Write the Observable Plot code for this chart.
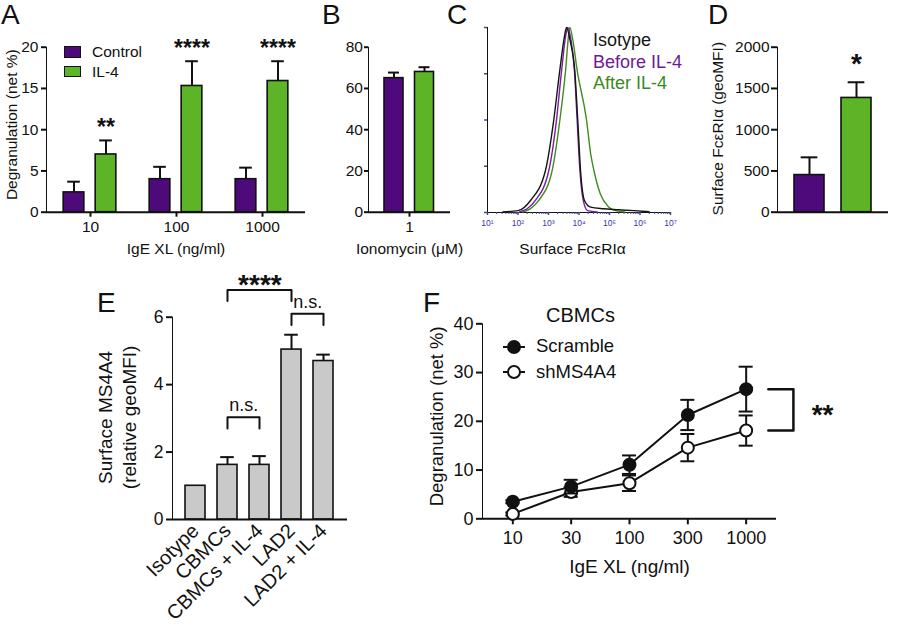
<!DOCTYPE html>
<html><head><meta charset="utf-8">
<script src="https://cdn.jsdelivr.net/npm/d3@7"></script>
<script src="https://cdn.jsdelivr.net/npm/@observablehq/plot@0.6"></script>
<style>
html,body{margin:0;padding:0;background:#fff;}
#root{position:relative;width:900px;height:626px;overflow:hidden;font-family:"Liberation Sans",Arial,sans-serif;color:#111;}
.pn{position:absolute;}
.pn svg{overflow:visible;}
.t{position:absolute;white-space:nowrap;}
.pn [aria-label*="axis"] line, .pn [aria-label*="axis"] path{stroke-width:2px;}
#pC [aria-label*="axis"]{color:#41468a;}
#pC [aria-label*="axis"] line, #pC [aria-label*="axis"] path{stroke-width:1.5px;}
#pC [aria-label*="axis"] text{font-size:8.5px !important;fill:#3434b0;}
#pE [aria-label^="x-axis"] text{font-size:20px !important;}
</style></head><body><div id="root"></div>
<script>
// ---------- data ----------
// A
const groupsA = ["10", "100", "1000"];
const controlA = [2.4, 4.0, 4.0];
const controlErrA = [1.3, 1.5, 1.4];
const il4A = [7.0, 15.3, 15.9];
const il4ErrA = [1.7, 3.0, 2.4];
const starsA = ["**", "****", "****"];
// B
const catsB = ["1"];
const controlB = [65.0];
const controlErrB = [2.7];
const il4B = [68.0];
const il4ErrB = [2.3];
// C (log10 intensity, % of max)
const isoLog = [1.5, 2.0, 2.41, 2.9, 3.17, 3.37, 3.52, 3.59, 3.72, 3.86, 3.96, 4.05, 4.18, 4.38, 4.8, 5.3, 5.8, 6.3];
const isoPct = [0.3, 1, 6.5, 22.7, 49.7, 76.8, 94.8, 100, 92, 76.8, 49.7, 22.7, 6.5, 2.9, 2, 1.5, 1, 0.4];
const beforeLog = [2.05, 2.3, 2.57, 3.01, 3.26, 3.43, 3.56, 3.63, 3.74, 3.85, 3.94, 4.03, 4.14, 4.28, 4.6];
const beforePct = [0.3, 2, 6.5, 22.7, 49.7, 76.8, 95, 100, 93, 76.8, 49.7, 22.7, 6.5, 1, 0.3];
const afterLog = [2.15, 2.4, 2.68, 3.12, 3.37, 3.56, 3.66, 3.70, 3.80, 3.94, 4.25, 4.38, 4.49, 4.70, 4.97, 5.2, 5.5];
const afterPct = [0.3, 2, 6.5, 22.7, 49.7, 76.8, 96, 100, 93, 76.8, 49.7, 32, 22.7, 10, 3, 1, 0.3];
const decadesC = [1, 2, 3, 4, 5, 6, 7];
const legendC = ["Isotype", "Before IL-4", "After IL-4"];
// D
const catsD = ["Control", "IL-4"];
const valsD = [450, 1385];
const errD = [215, 190];
const starsD = ["", "*"];
// E
const catsE = ["Isotype", "CBMCs", "CBMCs + IL-4", "LAD2", "LAD2 + IL-4"];
const valsE = [1.0, 1.62, 1.62, 5.04, 4.70];
const errE = [0, 0.23, 0.26, 0.44, 0.19];
const bracketsE = [
  {a: "CBMCs", b: "CBMCs + IL-4", level: 3.03, label: "n.s."},
  {a: "CBMCs", b: "LAD2", level: 6.81, label: "****"},
  {a: "LAD2", b: "LAD2 + IL-4", level: 6.10, label: "n.s."}
];
// F
const doses = ["10", "30", "100", "300", "1000"];
const scramble = [3.5, 6.6, 11.1, 21.3, 26.6];
const scrambleErr = [0.3, 1.4, 1.9, 3.1, 4.6];
const shMS4A4 = [1.0, 5.5, 7.3, 14.6, 18.1];
const shMS4A4Err = [0.3, 1.0, 1.6, 2.8, 3.1];
const starsF = "**";

// ---------- styling ----------
const FONT = '"Liberation Sans", Arial, sans-serif';
const PURPLE = "#4e0a7a", GREEN = "#5db427", INK = "#111", GREY = "#c9c9c9";
const C_ISO = "#151515", C_BEF = "#7a1ea3", C_AFT = "#3f8e1f";
const root = document.getElementById("root");
const intFmt = d3.format("d");

function panel(id, left, top, svg) {
  const d = document.createElement("div");
  d.className = "pn"; d.id = id;
  d.style.left = left + "px"; d.style.top = top + "px";
  d.appendChild(svg); root.appendChild(d);
}
function htext(text, x, baseline, size, opt = {}) {
  const d = document.createElement("div");
  d.className = "t"; d.textContent = text;
  d.style.fontSize = size + "px"; d.style.lineHeight = size + "px";
  d.style.top = (baseline - 0.8465 * size) + "px";
  d.style.left = x + "px";
  if (opt.anchor === "middle") d.style.transform = "translateX(-50%)";
  if (opt.color) d.style.color = opt.color;
  if (opt.weight) d.style.fontWeight = opt.weight;
  root.appendChild(d);
}
function style(size) {
  return {fontFamily: FONT, fontSize: size + "px", background: "transparent", overflow: "visible", color: INK};
}
function rows(cats, vals, errs, extra) {
  return cats.map((c, i) => ({c, v: vals[i], e: errs[i], s: extra ? extra[i] : ""}));
}
function barSeries(data, {fill, dx, bw, barW, capW}) {
  const inset = (bw - barW) / 2, cap = (bw - capW) / 2;
  const withErr = data.filter(d => d.e > 0);
  return [
    Plot.barY(data, {x: "c", y: "v", fill, stroke: INK, strokeWidth: 1.6, dx, insetLeft: inset, insetRight: inset}),
    Plot.ruleX(withErr, {x: "c", y1: "v", y2: d => d.v + d.e, dx, stroke: INK, strokeWidth: 2}),
    Plot.tickY(withErr, {x: "c", y: d => d.v + d.e, dx, stroke: INK, strokeWidth: 2, insetLeft: cap, insetRight: cap})
  ];
}
function yTitle(text, dx, dy, size, extra = {}) {
  return Plot.text([text], {text: d => d, frameAnchor: "left", textAnchor: "middle", lineAnchor: "middle",
    rotate: -90, dx, dy, fontSize: size, ...extra});
}
function xTitle(text, dy, size, dx = 0) {
  return Plot.text([text], {text: d => d, frameAnchor: "bottom", textAnchor: "middle", lineAnchor: "bottom",
    dx, dy, fontSize: size});
}

// ---------- A ----------
{
  const W = 310, H = 260, mL = 46, mR = 5;
  const bw = (W - mL - mR) / groupsA.length;
  const rc = rows(groupsA, controlA, controlErrA);
  const ri = rows(groupsA, il4A, il4ErrA, starsA);
  panel("pA", 0, 0, Plot.plot({
    width: W, height: H, marginLeft: mL, marginRight: mR, marginTop: 46.7, marginBottom: 48.3,
    style: style(15.5),
    x: {domain: groupsA, padding: 0, tickSize: 5, tickPadding: 4, label: null},
    y: {domain: [0, 20], ticks: 4, tickFormat: intFmt, tickSize: 5, tickPadding: 3, line: true, label: null},
    marks: [
      ...barSeries(rc, {fill: PURPLE, dx: -16.5, bw, barW: 21, capW: 13}),
      ...barSeries(ri, {fill: GREEN, dx: 15.5, bw, barW: 21, capW: 13}),
      Plot.ruleY([0], {stroke: INK, strokeWidth: 2}),
      Plot.text(ri, {x: "c", y: d => d.v + d.e, text: "s", dx: 15.5, dy: -5, lineAnchor: "bottom", fontSize: 23, fontWeight: "bold"}),
      yTitle("Degranulation (net %)", -34, -5, 15.5),
      xTitle("IgE XL (ng/ml)", 41.6, 15.5)
    ]
  }));
  // legend
  [[PURPLE, "Control", 46], [GREEN, "IL-4", 65.5]].forEach(([col, name, top]) => {
    const s = document.createElement("div");
    Object.assign(s.style, {position: "absolute", left: "64px", top: top + "px", width: "17px", height: "11.5px",
      background: col, border: "1.5px solid #111", boxSizing: "border-box"});
    root.appendChild(s);
    htext(name, 92, top + 11.3, 15.5);
  });
}

// ---------- B ----------
{
  const W = 180, H = 260, mL = 68, mR = 30;
  const bw = (W - mL - mR);
  panel("pB", 300, 0, Plot.plot({
    width: W, height: H, marginLeft: mL, marginRight: mR, marginTop: 46.7, marginBottom: 48.3,
    style: style(15.5),
    x: {domain: catsB, padding: 0, tickSize: 5, tickPadding: 4, label: null},
    y: {domain: [0, 80], ticks: 4, tickFormat: intFmt, tickSize: 4, tickPadding: 1.5, line: true, label: null},
    marks: [
      ...barSeries(rows(catsB, controlB, controlErrB), {fill: PURPLE, dx: -15.5, bw, barW: 19, capW: 11}),
      ...barSeries(rows(catsB, il4B, il4ErrB), {fill: GREEN, dx: 15, bw, barW: 19, capW: 11}),
      Plot.ruleY([0], {stroke: INK, strokeWidth: 2}),
      xTitle("Ionomycin (\u03bcM)", 41.6, 15.5)
    ]
  }));
}

// ---------- C ----------
{
  const sup = {1: "\u00b9", 2: "\u00b2", 3: "\u00b3", 4: "\u2074", 5: "\u2075", 6: "\u2076", 7: "\u2077"};
  const curve = (ls, ps) => ls.map((l, i) => ({x: 10 ** l, y: ps[i]}));
  const minor = decadesC.slice(0, -1).flatMap(k => [2, 3, 4, 5, 6, 7, 8, 9].map(m => m * 10 ** k));
  panel("pC", 470, 0, Plot.plot({
    width: 230, height: 260, marginLeft: 17, marginRight: 30, marginTop: 27, marginBottom: 48,
    style: style(15.5),
    x: {type: "log", domain: [10, 1e7], ticks: decadesC.map(k => 10 ** k),
        tickFormat: d => "10" + sup[Math.round(Math.log10(d))], tickSize: 3, tickPadding: 4, line: true, label: null},
    y: {domain: [0, 100], ticks: [0, 25, 50, 75, 100], tickFormat: () => "", tickSize: 3, line: true, label: null},
    marks: [
      Plot.ruleX(minor, {x: d => d, y1: 0, y2: 0, insetBottom: -2, stroke: "#41468a", strokeWidth: 1}),
      Plot.line(curve(afterLog, afterPct), {x: "x", y: "y", stroke: C_AFT, strokeWidth: 1.4, curve: "monotone-x"}),
      Plot.line(curve(beforeLog, beforePct), {x: "x", y: "y", stroke: C_BEF, strokeWidth: 1.4, curve: "monotone-x"}),
      Plot.line(curve(isoLog, isoPct), {x: "x", y: "y", stroke: C_ISO, strokeWidth: 1.4, curve: "monotone-x"}),
      xTitle("Surface Fc\u03b5RI\u03b1", 41.6, 15.5, -6.5)
    ]
  }));
  [[legendC[0], C_ISO, 46.2], [legendC[1], "#6b1a98", 67.9], [legendC[2], "#3b8a1d", 89.6]]
    .forEach(([t, col, b]) => htext(t, 593, b, 18, {color: col}));
}

// ---------- D ----------
{
  const W = 210, mL = 87, mR = 12, pi = 0.365, po = 0.346;
  const step = (W - mL - mR) / (catsD.length - pi + 2 * po);
  const bw = step * (1 - pi);
  const rd = rows(catsD, valsD, errD, starsD);
  panel("pD", 690, 0, Plot.plot({
    width: W, height: 260, marginLeft: mL, marginRight: mR, marginTop: 46.7, marginBottom: 48.3,
    style: style(15.5),
    x: {domain: catsD, paddingInner: pi, paddingOuter: po, axis: null},
    y: {domain: [0, 2000], ticks: 4, tickFormat: intFmt, tickSize: 6, tickPadding: 2, line: true, label: null},
    marks: [
      ...barSeries(rd.slice(0, 1), {fill: PURPLE, dx: 0, bw, barW: bw, capW: 17}),
      ...barSeries(rd.slice(1), {fill: GREEN, dx: 0, bw, barW: bw, capW: 17}),
      Plot.ruleY([0], {stroke: INK, strokeWidth: 2}),
      Plot.text(rd, {x: "c", y: d => d.v + d.e, text: "s", dy: -9, lineAnchor: "bottom", fontSize: 28, fontWeight: "bold"}),
      yTitle("Surface Fc\u03b5RI\u03b1 (geoMFI)", -59, -1, 15.5)
    ]
  }));
}

// ---------- E ----------
{
  const W = 420, mL = 172, mR = 73, pi = 0.37, po = 0.385;
  const step = (W - mL - mR) / (catsE.length - pi + 2 * po);
  const bw = step * (1 - pi);
  const re = rows(catsE, valsE, errE);
  const leg = 0.33;
  const pts = bracketsE.flatMap((br, k) => [
    {k, x: br.a, y: br.level - leg}, {k, x: br.a, y: br.level}, {k, x: br.b, y: br.level}, {k, x: br.b, y: br.level - leg}]);
  const labelMarks = bracketsE.map(br => {
    const span = catsE.indexOf(br.b) - catsE.indexOf(br.a);
    const stars = br.label.startsWith("*");
    return Plot.text([br], {x: "a", y: "level", text: "label", dx: span * step / 2,
      dy: stars ? 4 : -6, lineAnchor: "bottom", fontSize: stars ? 28 : 18, fontWeight: stars ? "bold" : "normal"});
  });
  panel("pE", 0, 260, Plot.plot({
    width: W, height: 366, marginLeft: mL, marginRight: mR, marginTop: 56.7, marginBottom: 107,
    style: style(17.5),
    x: {domain: catsE, paddingInner: pi, paddingOuter: po, tickSize: 0, tickPadding: 8, tickRotate: -45, label: null},
    y: {domain: [0, 6], ticks: 3, tickFormat: intFmt, tickSize: 6, tickPadding: 3, line: true, label: null},
    marks: [
      ...barSeries(re, {fill: GREY, dx: 0, bw, barW: bw, capW: 14}),
      Plot.ruleY([0], {stroke: INK, strokeWidth: 2}),
      Plot.line(pts, {x: "x", y: "y", z: "k", stroke: INK, strokeWidth: 2}),
      ...labelMarks,
      yTitle("Surface MS4A4\n(relative geoMFI)", -56.5, -1, 19, {lineHeight: 1.3})
    ]
  }));
}

// ---------- F ----------
{
  const rs = doses.map((d, i) => ({i, v: scramble[i], e: scrambleErr[i]}));
  const rh = doses.map((d, i) => ({i, v: shMS4A4[i], e: shMS4A4Err[i]}));
  const cap = 0.12;
  const series = (data, fill) => [
    Plot.line(data, {x: "i", y: "v", stroke: INK, strokeWidth: 2}),
    Plot.ruleX(data, {x: "i", y1: d => d.v - d.e, y2: d => d.v + d.e, stroke: INK, strokeWidth: 2}),
    Plot.ruleY(data, {y: d => d.v + d.e, x1: d => d.i - cap, x2: d => d.i + cap, stroke: INK, strokeWidth: 2}),
    Plot.ruleY(data, {y: d => d.v - d.e, x1: d => d.i - cap, x2: d => d.i + cap, stroke: INK, strokeWidth: 2}),
    Plot.dot(data, {x: "i", y: "v", r: 6, fill, stroke: INK, strokeWidth: 2})
  ];
  const last = doses.length - 1;
  const br = [
    {x: last + 0.38, y: scramble[last]}, {x: last + 0.81, y: scramble[last]},
    {x: last + 0.81, y: shMS4A4[last]}, {x: last + 0.38, y: shMS4A4[last]}];
  panel("pF", 410, 290, Plot.plot({
    width: 490, height: 336, marginLeft: 72, marginRight: 124, marginTop: 33.3, marginBottom: 107.7,
    style: style(18),
    x: {type: "linear", domain: [-0.52, last + 0.52], ticks: doses.map((d, i) => i), tickFormat: i => doses[i],
        tickSize: 6, tickPadding: 6, label: null},
    y: {domain: [0, 40], ticks: 4, tickFormat: intFmt, tickSize: 6, tickPadding: 3, line: true, label: null},
    marks: [
      Plot.ruleY([0], {stroke: INK, strokeWidth: 2}),
      ...series(rh, "#fff"),
      ...series(rs, INK),
      Plot.line(br, {x: "x", y: "y", stroke: INK, strokeWidth: 2.5}),
      Plot.text([starsF], {text: d => d, x: () => last + 1.31, y: () => (scramble[last] + shMS4A4[last]) / 2,
        dy: 14, lineAnchor: "bottom", fontSize: 28, fontWeight: "bold"}),
      yTitle("Degranulation (net %)", -45, -5, 18.5),
      xTitle("IgE XL (ng/ml)", 54.4, 19)
    ]
  }));
  htext("CBMCs", 546, 322.3, 20);
  [["Scramble", INK, 347, 352.7], ["shMS4A4", "#fff", 372, 378.3]].forEach(([name, fill, cy, b]) => {
    const ns = "http://www.w3.org/2000/svg";
    const s = document.createElementNS(ns, "svg");
    s.setAttribute("width", 30); s.setAttribute("height", 16);
    Object.assign(s.style, {position: "absolute", left: "499px", top: (cy - 8) + "px", overflow: "visible"});
    const l = document.createElementNS(ns, "line");
    l.setAttribute("x1", 4); l.setAttribute("x2", 26); l.setAttribute("y1", 8); l.setAttribute("y2", 8);
    l.setAttribute("stroke", INK); l.setAttribute("stroke-width", 2);
    const c = document.createElementNS(ns, "circle");
    c.setAttribute("cx", 15); c.setAttribute("cy", 8); c.setAttribute("r", 6);
    c.setAttribute("fill", fill); c.setAttribute("stroke", INK); c.setAttribute("stroke-width", 2);
    s.appendChild(l); s.appendChild(c); root.appendChild(s);
    htext(name, 536, b, 18.5);
  });
}

// ---------- panel letters ----------
[["A", 1, 25], ["B", 322, 25], ["C", 447, 25], ["D", 708, 25], ["E", 97, 313], ["F", 423, 313]]
  .forEach(([t, x, b]) => htext(t, x, b, 28));
</script></body></html>
